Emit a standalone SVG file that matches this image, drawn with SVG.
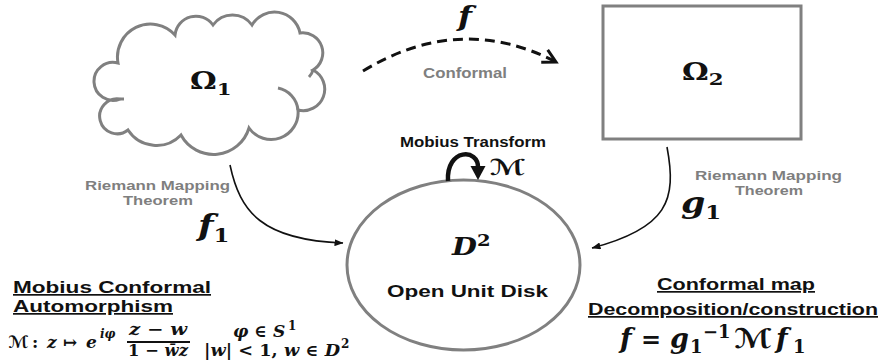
<svg xmlns="http://www.w3.org/2000/svg" width="884" height="361" viewBox="0 0 884 361">
  <style>
    .shape { fill: none; stroke: #808080; stroke-width: 3; }
    .lbl { font-family: "Liberation Sans", Arial, sans-serif; font-weight: bold; }
    .grey { fill: #7f7f7f; }
    .blk { fill: #111; }
    .m { font-family: "DejaVu Serif", "Liberation Serif", serif; font-weight: bold; font-style: italic; fill: #111; }
    .up { font-style: normal; }
    .scr { font-family: "DejaVu Sans", "Liberation Sans", sans-serif; font-style: italic; font-weight: bold; }
    .thin { fill: none; stroke: #111; stroke-width: 1.6; }
  </style>
  <defs>
    <marker id="tip" viewBox="0 0 9 7" refX="8.5" refY="3.5" markerWidth="9" markerHeight="7" markerUnits="userSpaceOnUse" orient="auto">
      <path d="M0,0 L9,3.5 L0,7 z" fill="#111"/>
    </marker>
    <marker id="chev" viewBox="-16 -10 20 20" refX="0" refY="0" markerWidth="20" markerHeight="20" markerUnits="userSpaceOnUse" orient="auto" overflow="visible">
      <path d="M-13,-7 L0,0 L-13,7" fill="none" stroke="#111" stroke-width="3" stroke-linejoin="miter"/>
    </marker>
  </defs>

  <!-- Omega 1: cloud-shaped domain -->
  <g id="omega1">
    <path class="shape" d="M120,99 A19,19 0 1 1 118,63 A33,33 0 0 1 175,35 A21,21 0 0 1 213,25 A24,24 0 0 1 252,25 A26,26 0 0 1 300,33 A20,20 0 0 1 313,70 A21.5,21.5 0 0 1 298,110 A27,27 0 0 1 249,128 A37,37 0 0 1 181,135 A34,34 0 0 1 128,130 A17.5,17.5 0 1 1 120,99"/>
    <path class="shape" d="M278,88 A25,25 0 0 1 298,110"/>
    <path class="shape" d="M313,70 Q312,74 309,77"/>
    <path class="shape" d="M120,99 L124,99"/>
    <text class="m up" transform="translate(190,89) scale(1.25,1)" font-size="24">Ω<tspan font-size="17" dy="6">1</tspan></text>
  </g>

  <!-- Omega 2: rectangular domain -->
  <g id="omega2">
    <rect class="shape" x="603" y="6" width="198" height="133"/>
    <text class="m up" transform="translate(682,80) scale(1.25,1)" font-size="24">Ω<tspan font-size="17" dy="5">2</tspan></text>
  </g>

  <!-- open unit disk -->
  <g id="disk">
    <ellipse class="shape" cx="463.5" cy="265" rx="116.5" ry="85"/>
    <text class="m" transform="translate(452,255) scale(1.15,1)" font-size="25">D<tspan class="up" font-size="17" dy="-9">2</tspan></text>
    <text class="lbl blk" x="467.5" y="297" font-size="16" text-anchor="middle" textLength="161" lengthAdjust="spacingAndGlyphs">Open Unit Disk</text>
  </g>

  <g id="connectors">
    <!-- f : Omega1 to Omega2 -->
    <path d="M363,71 Q460,12 556,62" fill="none" stroke="#111" stroke-width="3" stroke-dasharray="10 6" marker-end="url(#chev)"/>
    <!-- f1 : Omega1 to disk -->
    <path class="thin" d="M230,165 C240,212 262,240 343,243" marker-end="url(#tip)"/>
    <!-- g1 : Omega2 to disk -->
    <path class="thin" d="M667,147 C677,200 668,228 592,248" marker-end="url(#tip)"/>
    <!-- Mobius self map on the disk -->
    <path d="M448,181 C446,148 479,148 478,168" fill="none" stroke="#111" stroke-width="4.5"/>
    <polygon points="470.5,166 485.5,166 478,180" fill="#111"/>
  </g>

  <!-- connector labels -->
  <g id="labels">
    <text class="m" transform="translate(458,26) scale(1.2,1)" font-size="27">f</text>
    <text class="lbl grey" x="465" y="78" font-size="14" text-anchor="middle" textLength="84" lengthAdjust="spacingAndGlyphs">Conformal</text>

    <text class="lbl blk" x="473" y="147" font-size="14" text-anchor="middle" textLength="146" lengthAdjust="spacingAndGlyphs">Mobius Transform</text>
    <text class="m scr" x="490" y="175" font-size="22" textLength="36" lengthAdjust="spacingAndGlyphs">ℳ</text>

    <text class="lbl grey" x="157.5" y="190" font-size="13" text-anchor="middle" textLength="145" lengthAdjust="spacingAndGlyphs">Riemann Mapping</text>
    <text class="lbl grey" x="158" y="205" font-size="13" text-anchor="middle" textLength="70" lengthAdjust="spacingAndGlyphs">Theorem</text>
    <text class="m" transform="translate(198,236) scale(1.2,1)" font-size="30">f<tspan class="up" font-size="19" dy="6">1</tspan></text>

    <text class="lbl grey" x="768.5" y="180" font-size="13" text-anchor="middle" textLength="147" lengthAdjust="spacingAndGlyphs">Riemann Mapping</text>
    <text class="lbl grey" x="769" y="195" font-size="13" text-anchor="middle" textLength="68" lengthAdjust="spacingAndGlyphs">Theorem</text>
    <text class="m" transform="translate(681,213) scale(1.2,1)" font-size="29">g<tspan class="up" font-size="19" dy="6">1</tspan></text>
  </g>

  <!-- Mobius automorphism of the disk -->
  <g id="automorphism">
    <text class="lbl blk" x="13" y="293" font-size="17" text-decoration="underline" textLength="198" lengthAdjust="spacingAndGlyphs">Mobius Conformal</text>
    <text class="lbl blk" x="13" y="312" font-size="17" text-decoration="underline" textLength="160" lengthAdjust="spacingAndGlyphs">Automorphism</text>
    <text class="m" y="348" font-size="17"><tspan class="scr" x="8">ℳ</tspan><tspan class="up" x="32">:</tspan><tspan x="47">z</tspan><tspan class="up" x="63">↦</tspan><tspan x="86">e</tspan><tspan x="100" y="338" font-size="12">iφ</tspan></text>
    <text class="m" x="158" y="335" font-size="17" text-anchor="middle" textLength="58" lengthAdjust="spacingAndGlyphs">z <tspan class="up">−</tspan> w</text>
    <line x1="127" y1="342" x2="190" y2="342" stroke="#111" stroke-width="1.8"/>
    <text class="m" x="158" y="356" font-size="16" text-anchor="middle" textLength="60" lengthAdjust="spacingAndGlyphs"><tspan class="up">1 −</tspan> w̄z</text>
    <text class="m" y="337" font-size="17"><tspan x="233">φ</tspan><tspan class="up" x="254">∈</tspan><tspan x="273">S</tspan><tspan class="up" x="288" y="330" font-size="12">1</tspan></text>
    <text class="m" x="204" y="356" font-size="16" textLength="136" lengthAdjust="spacingAndGlyphs"><tspan class="up">|</tspan>w<tspan class="up">| &lt; 1, </tspan>w<tspan class="up"> ∈ </tspan>D</text>
    <text class="m up" x="341" y="348" font-size="12">2</text>
  </g>

  <!-- decomposition of f -->
  <g id="decomposition">
    <text class="lbl blk" x="736" y="290" font-size="17" text-anchor="middle" text-decoration="underline" textLength="158" lengthAdjust="spacingAndGlyphs">Conformal map</text>
    <text class="lbl blk" x="733" y="315" font-size="17" text-anchor="middle" text-decoration="underline" textLength="290" lengthAdjust="spacingAndGlyphs">Decomposition/construction</text>
    <text class="m" y="348" font-size="27"><tspan x="620">f</tspan><tspan class="up" x="641" font-size="24">=</tspan><tspan x="670">g</tspan><tspan class="up" x="690" y="353" font-size="18">1</tspan><tspan class="up" x="703" y="338" font-size="18">−1</tspan></text>
    <text class="m scr" x="734" y="348" font-size="27" textLength="38" lengthAdjust="spacingAndGlyphs">ℳ</text>
    <text class="m" y="348" font-size="27"><tspan x="776">f</tspan><tspan class="up" x="793" y="353" font-size="18">1</tspan></text>
  </g>
</svg>
